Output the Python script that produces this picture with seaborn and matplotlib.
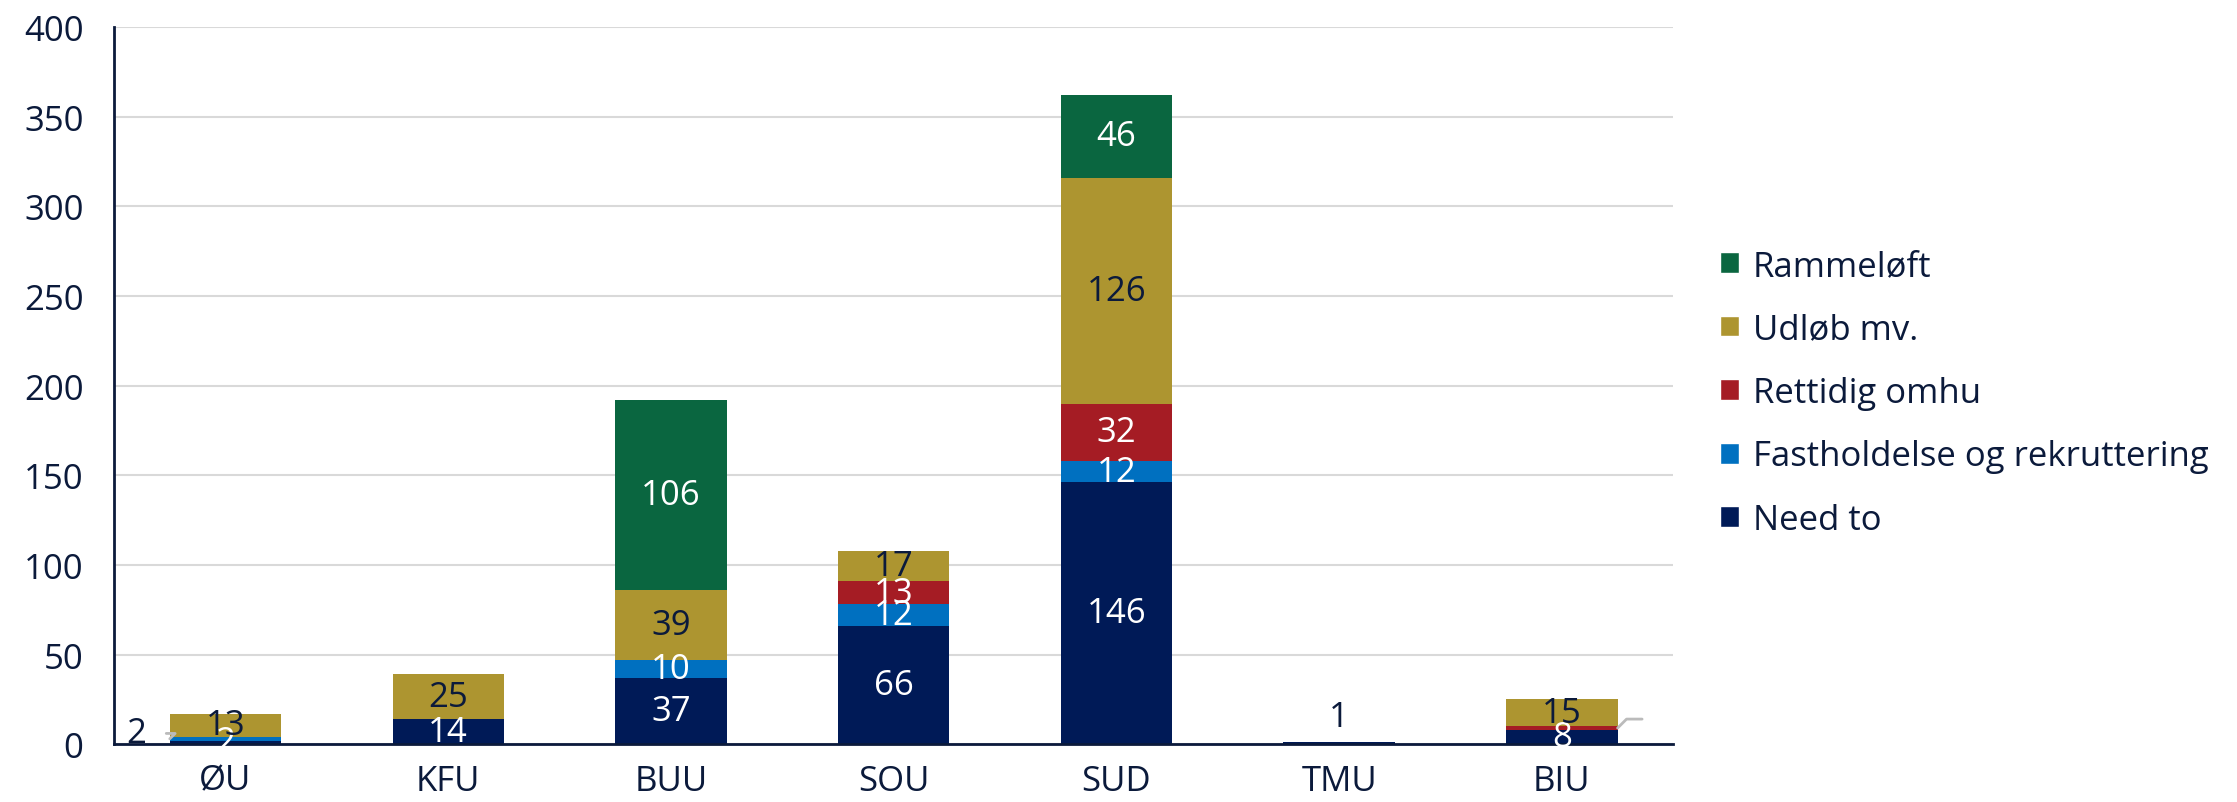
import matplotlib
matplotlib.use("Agg")
import matplotlib.pyplot as plt
import seaborn as sns
import numpy as np
from matplotlib.patches import Patch

categories = ["ØU", "KFU", "BUU", "SOU", "SUD", "TMU", "BIU"]
need_to = [2, 14, 37, 66, 146, 1, 8]
fastholdelse = [2, 0, 10, 12, 12, 0, 0]
rettidig = [0, 0, 0, 13, 32, 0, 2]
udloeb = [13, 25, 39, 17, 126, 0, 15]
rammeloeft = [0, 0, 106, 0, 46, 0, 0]

series_names = ["Need to", "Fastholdelse og rekruttering", "Rettidig omhu", "Udløb mv.", "Rammeløft"]
series_values = [need_to, fastholdelse, rettidig, udloeb, rammeloeft]
colors = ["#001A57", "#0070C0", "#A51C24", "#AD9530", "#0A6640"]
label_colors = ["white", "white", "white", "#0B1A3B", "white"]

sns.set_style("white")
plt.rcParams["font.family"] = ["Open Sans", "DejaVu Sans"]
text_color = "#0B1A3B"
fs = 25

fig, ax = plt.subplots(figsize=(22.37, 8.03), dpi=100)
fig.subplots_adjust(left=0.051, right=0.748, top=0.965, bottom=0.072)

bottom = np.zeros(len(categories))
for name, vals, col, lc in zip(series_names, series_values, colors, label_colors):
    vals = np.array(vals, dtype=float)
    sns.barplot(x=categories, y=vals, bottom=bottom, color=col, width=0.5,
                ax=ax, saturation=1, linewidth=0)
    for i, v in enumerate(vals):
        if v <= 0:
            continue
        if name == "Fastholdelse og rekruttering" and categories[i] == "ØU":
            ax.annotate(f"{int(v)}", xy=(i - 0.25, bottom[i] + v / 2),
                        xytext=(i - 0.4, 6), fontsize=fs, color=text_color,
                        ha="center", va="center",
                        arrowprops=dict(arrowstyle="-", color="#BBBBBB", lw=2,
                                        shrinkA=12, shrinkB=0,
                                        connectionstyle="angle,angleA=0,angleB=45,rad=0"))
        elif name == "Rettidig omhu" and categories[i] == "BIU":
            ax.annotate("", xy=(i + 0.25, bottom[i] + v / 2),
                        xytext=(i + 0.36, 14),
                        arrowprops=dict(arrowstyle="-", color="#BBBBBB", lw=2,
                                        shrinkA=0, shrinkB=0,
                                        connectionstyle="angle,angleA=0,angleB=45,rad=0"))
        elif categories[i] == "TMU":
            ax.text(i, bottom[i] + v + 14, f"{int(v)}", ha="center", va="center",
                    fontsize=fs, color=text_color)
        else:
            ax.text(i, bottom[i] + v / 2, f"{int(v)}", ha="center", va="center",
                    fontsize=fs, color=lc)
    bottom += vals

ax.set_ylim(0, 400)
ax.set_yticks(range(0, 401, 50))
ax.set_xlim(-0.5, len(categories) - 0.5)
ax.yaxis.grid(True, color="#D9D9D9", linewidth=1.5)
ax.set_axisbelow(True)
for side in ["top", "right"]:
    ax.spines[side].set_visible(False)
for side in ["left", "bottom"]:
    ax.spines[side].set_color(text_color)
    ax.spines[side].set_linewidth(2)
ax.tick_params(axis="both", length=0, labelsize=fs, colors=text_color)
ax.tick_params(axis="y", pad=22)
ax.tick_params(axis="x", pad=14)

handles = [Patch(facecolor=c, label=n) for n, c in zip(series_names, colors)][::-1]
leg = ax.legend(handles=handles, loc="center left", bbox_to_anchor=(1.01, 0.49),
                frameon=False, fontsize=fs, handlelength=0.55, handleheight=0.55,
                handletextpad=0.4, labelspacing=0.85, labelcolor=text_color)

plt.savefig("out.png", dpi=100)
